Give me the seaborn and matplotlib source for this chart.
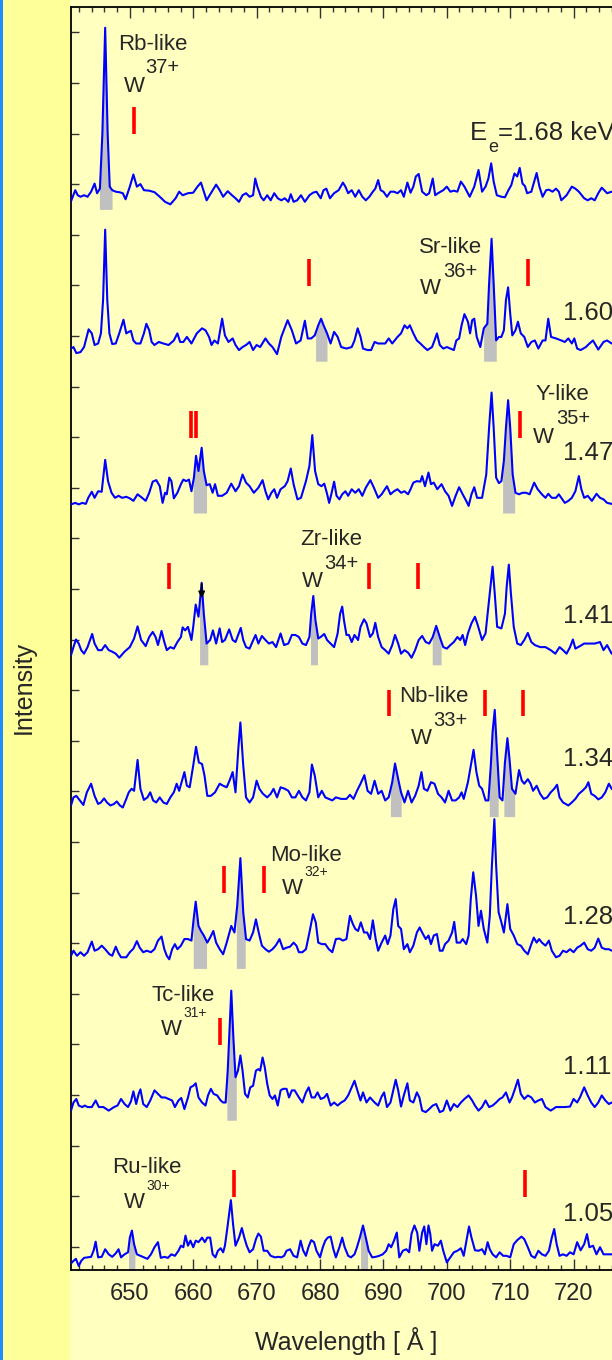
import numpy as np
import pandas as pd
import seaborn as sns
import matplotlib.pyplot as plt
from matplotlib.patches import Rectangle
from matplotlib.ticker import MultipleLocator

# ---- data (wavelength in A, intensity relative to its own baseline) ----
ions = ["Rb", "Sr", "Y", "Zr", "Nb", "Mo", "Tc", "Ru"]
charges = ["37+", "36+", "35+", "34+", "33+", "32+", "31+", "30+"]
energies = ["1.68", "1.60", "1.47", "1.41", "1.34", "1.28", "1.11", "1.05"]
offsets = [21, 18, 15, 12, 9, 6, 3, 0]

spec_rb = [(640.72, -0.34), (641.39, -0.12), (641.78, -0.22), (642.22, -0.25), (642.78, -0.22),
           (643.33, -0.25), (643.89, -0.15), (644.44, 0.01), (644.83, -0.18), (645.28, -0.09),
           (645.67, 1.00), (646.11, 3.09), (646.50, 1.00), (646.83, -0.05), (647.22, -0.12),
           (647.78, -0.15), (648.33, -0.16), (648.89, -0.18), (649.33, -0.30), (650.00, -0.05),
           (650.56, 0.19), (651.11, -0.05), (651.67, 0.00), (652.22, -0.12), (653.06, -0.13),
           (653.89, -0.16), (654.72, -0.25), (655.56, -0.35), (656.39, -0.40), (657.22, -0.28),
           (657.78, -0.15), (658.33, -0.22), (659.17, -0.18), (660.00, -0.17), (660.67, -0.05),
           (661.22, 0.03), (661.67, -0.15), (662.11, -0.32), (662.78, -0.18), (663.61, -0.01),
           (664.17, -0.12), (664.72, -0.25), (665.44, -0.14), (666.11, -0.22), (666.67, -0.28),
           (667.22, -0.35), (667.78, -0.22), (668.33, -0.18), (668.89, -0.25), (669.44, -0.22),
           (669.78, 0.11), (670.11, -0.05), (670.67, -0.25), (671.11, -0.32), (671.67, -0.22),
           (672.22, -0.32), (672.78, -0.18), (673.33, -0.28), (673.89, -0.32), (674.44, -0.28),
           (675.00, -0.35), (675.39, -0.20), (675.83, -0.35), (676.39, -0.32), (677.00, -0.22),
           (677.61, -0.35), (678.33, -0.22), (678.89, -0.17), (679.44, -0.15), (680.11, -0.28),
           (680.56, -0.12), (681.00, -0.09), (681.56, -0.28), (682.22, -0.18), (682.94, -0.12),
           (683.61, 0.03), (684.00, -0.05), (684.44, -0.18), (685.00, -0.12), (685.56, -0.25),
           (686.11, -0.12), (686.67, -0.25), (687.22, -0.32), (687.78, -0.25), (688.33, -0.15),
           (688.72, -0.09), (689.17, 0.08), (689.56, -0.12), (690.00, -0.15), (690.56, -0.25),
           (691.11, -0.15), (691.67, -0.15), (692.22, -0.18), (692.78, -0.12), (693.22, -0.25),
           (693.78, 0.03), (694.28, -0.17), (694.72, -0.05), (695.11, 0.15), (695.56, 0.20),
           (696.11, -0.15), (696.78, -0.22), (697.22, -0.18), (697.78, 0.11), (698.17, -0.22),
           (698.61, -0.18), (699.44, -0.12), (700.00, -0.05), (700.56, -0.15), (701.11, -0.13),
           (701.67, -0.15), (702.22, 0.05), (702.78, -0.05), (703.61, -0.25), (704.33, -0.05),
           (705.00, 0.28), (705.56, -0.15), (706.11, -0.05), (706.56, 0.11), (707.00, 0.41),
           (707.39, 0.05), (707.89, -0.22), (708.61, -0.25), (709.17, -0.26), (709.72, -0.12),
           (710.17, -0.02), (710.67, 0.21), (711.11, 0.15), (711.50, 0.32), (711.94, 0.01),
           (712.33, -0.04), (712.67, -0.18), (713.33, -0.15), (714.17, 0.22), (714.61, -0.05),
           (715.11, -0.25), (715.67, -0.12), (716.11, -0.11), (716.67, -0.15), (717.22, -0.09),
           (717.67, -0.15), (718.06, -0.32), (718.89, -0.22), (719.72, -0.05), (720.28, -0.09),
           (720.83, -0.15), (721.67, -0.28), (722.22, -0.32), (722.78, -0.28), (723.33, -0.32),
           (723.89, -0.18), (724.44, -0.07), (725.28, -0.18), (726.00, -0.15), (727.00, -0.20)]

spec_sr = [(640.72, -0.25), (641.11, -0.22), (641.56, -0.34), (642.22, -0.32), (642.78, -0.22),
           (643.50, 0.13), (644.00, 0.05), (644.44, -0.18), (645.00, -0.15), (645.44, 0.05),
           (645.78, 0.71), (646.11, 2.10), (646.44, 0.71), (646.78, 0.05), (647.22, -0.16),
           (647.78, -0.15), (648.33, 0.05), (649.00, 0.32), (649.44, 0.05), (649.83, 0.08),
           (650.17, 0.10), (650.56, -0.09), (651.00, -0.15), (651.67, -0.15), (652.22, 0.05),
           (652.61, 0.24), (653.06, 0.11), (653.44, -0.12), (653.89, -0.18), (654.56, -0.12),
           (655.28, -0.15), (656.11, -0.18), (656.94, -0.09), (657.50, 0.05), (657.94, -0.12),
           (658.44, -0.12), (659.00, -0.02), (659.72, -0.15), (660.56, 0.05), (661.39, 0.15),
           (661.94, 0.11), (662.50, -0.02), (662.89, -0.18), (663.33, -0.09), (663.89, -0.15),
           (664.56, 0.34), (665.00, 0.01), (665.56, -0.12), (666.22, -0.05), (666.67, -0.18),
           (667.22, -0.28), (667.78, -0.22), (668.33, -0.18), (668.89, -0.12), (669.44, -0.28),
           (670.00, -0.18), (670.56, -0.22), (671.39, -0.05), (671.94, -0.15), (672.50, -0.22),
           (673.22, -0.36), (673.89, -0.02), (674.89, 0.31), (675.56, 0.11), (676.22, -0.15),
           (676.94, -0.09), (677.61, 0.30), (678.06, -0.05), (678.61, -0.05), (679.17, 0.01),
           (679.72, 0.21), (680.17, 0.34), (680.56, 0.21), (681.11, 0.05), (681.67, -0.15),
           (682.22, 0.08), (682.78, -0.02), (683.33, -0.22), (684.17, -0.25), (685.00, -0.22),
           (685.44, -0.09), (685.94, 0.15), (686.39, -0.02), (686.78, -0.25), (687.50, -0.28),
           (688.06, -0.28), (688.61, -0.12), (689.17, -0.15), (690.28, -0.15), (690.83, -0.05),
           (691.39, -0.15), (692.22, -0.02), (692.78, 0.05), (693.33, 0.21), (693.78, 0.15),
           (694.17, 0.21), (694.72, 0.05), (695.28, -0.09), (695.83, -0.15), (696.39, -0.22),
           (696.94, -0.28), (697.67, -0.22), (698.06, -0.09), (698.44, 0.05), (698.89, -0.18),
           (699.44, -0.25), (700.00, -0.22), (700.56, -0.25), (701.11, -0.28), (701.50, -0.09),
           (701.94, -0.05), (702.33, 0.21), (702.78, 0.43), (703.33, 0.28), (703.67, 0.05),
           (704.00, 0.31), (704.33, 0.34), (704.72, -0.02), (705.28, -0.22), (705.83, 0.15),
           (706.39, 0.24), (706.67, 1.03), (707.06, 1.92), (707.39, 1.03), (707.78, -0.09),
           (708.22, -0.02), (708.61, -0.02), (709.00, 0.11), (709.33, 0.71), (709.67, 0.96),
           (710.00, 0.44), (710.33, 0.01), (710.83, 0.11), (711.22, 0.28), (711.67, 0.05),
           (712.22, -0.02), (712.78, -0.22), (713.33, -0.12), (713.89, -0.09), (714.44, -0.25),
           (715.11, -0.09), (715.56, -0.09), (716.00, 0.34), (716.44, -0.02), (717.22, -0.05),
           (718.06, -0.09), (718.61, -0.12), (719.17, -0.05), (719.72, -0.15), (720.11, -0.05),
           (720.56, -0.25), (721.11, -0.28), (721.94, -0.22), (722.50, -0.15), (723.06, -0.09),
           (723.89, -0.27), (724.72, -0.12), (725.28, -0.09), (726.00, -0.15), (727.00, -0.12)]

spec_y = [(640.72, -0.33), (641.39, -0.30), (641.94, -0.33), (642.50, -0.30), (643.06, -0.32),
          (643.44, -0.20), (644.00, -0.08), (644.44, -0.20), (645.00, -0.07), (645.56, -0.08),
          (646.11, 0.55), (646.56, 0.13), (647.11, -0.10), (647.67, -0.20), (648.22, -0.16),
          (648.78, -0.20), (649.44, -0.18), (650.00, -0.21), (650.56, -0.26), (651.22, -0.13),
          (651.94, -0.20), (652.50, -0.26), (653.06, -0.10), (653.61, 0.12), (654.17, 0.15),
          (654.72, 0.03), (655.17, -0.30), (655.56, -0.10), (655.83, -0.13), (656.22, 0.20),
          (656.56, 0.13), (656.94, -0.21), (657.50, -0.10), (658.06, 0.07), (658.44, 0.16),
          (658.89, 0.13), (659.33, 0.16), (659.72, -0.07), (660.11, 0.20), (660.44, 0.63),
          (660.83, 0.33), (661.33, 0.79), (661.67, 0.33), (662.11, 0.05), (662.61, 0.07),
          (663.06, -0.10), (663.44, 0.07), (663.89, -0.16), (664.56, -0.16), (665.28, -0.10),
          (666.00, 0.08), (666.67, -0.07), (667.22, 0.03), (667.78, 0.26), (668.33, 0.10),
          (668.89, 0.03), (669.56, -0.10), (670.28, 0.00), (670.94, 0.15), (671.39, -0.07),
          (671.83, -0.23), (672.33, -0.10), (672.78, -0.03), (673.22, -0.20), (673.78, -0.03),
          (674.44, 0.03), (674.89, 0.13), (675.39, 0.38), (675.83, 0.07), (676.44, -0.23),
          (677.00, -0.20), (677.78, 0.13), (678.33, 0.43), (678.78, 1.04), (679.22, 0.33),
          (679.72, 0.07), (680.22, 0.03), (680.67, 0.08), (681.11, -0.12), (681.44, -0.30),
          (681.78, -0.13), (682.22, 0.12), (682.61, -0.16), (683.06, -0.23), (683.50, -0.13),
          (684.00, -0.07), (684.44, -0.16), (685.00, -0.03), (685.56, -0.10), (686.11, -0.03),
          (686.67, -0.16), (687.22, 0.00), (687.94, 0.15), (688.50, 0.00), (689.17, -0.20),
          (689.72, -0.13), (690.56, 0.03), (691.11, -0.13), (691.67, -0.07), (692.22, -0.03),
          (692.78, -0.10), (693.33, -0.07), (693.89, -0.13), (694.28, -0.03), (694.72, 0.10),
          (695.28, 0.13), (695.83, 0.12), (696.11, 0.23), (696.56, 0.03), (697.11, 0.30),
          (697.50, 0.07), (697.94, 0.10), (698.50, -0.03), (699.17, 0.07), (699.72, -0.07),
          (700.28, -0.16), (700.83, -0.36), (701.39, -0.16), (701.94, 0.01), (702.50, -0.13),
          (703.06, -0.26), (703.44, -0.36), (703.89, -0.13), (704.33, 0.01), (704.78, -0.20),
          (705.56, -0.20), (706.22, 0.26), (706.67, 1.19), (707.06, 1.88), (707.39, 1.19),
          (707.78, 0.20), (708.22, 0.09), (708.61, 0.13), (709.00, 0.53), (709.33, 1.19),
          (709.67, 1.73), (710.00, 1.19), (710.39, 0.26), (710.83, -0.10), (711.39, -0.13),
          (711.94, -0.10), (712.50, -0.10), (713.06, -0.13), (713.78, 0.10), (714.33, -0.03),
          (715.00, -0.13), (715.56, -0.20), (716.00, -0.12), (716.56, -0.20), (717.22, -0.20),
          (717.67, -0.13), (718.06, -0.20), (718.61, -0.30), (719.17, -0.26), (719.72, -0.20),
          (720.28, -0.07), (720.83, 0.23), (721.22, -0.03), (721.67, -0.20), (722.22, -0.16),
          (722.89, -0.26), (723.61, -0.12), (724.17, -0.20), (724.72, -0.23), (725.28, -0.30),
          (726.00, -0.32), (727.00, -0.25)]

spec_zr = [(640.72, -0.31), (641.11, -0.15), (641.50, 0.00), (641.94, -0.08), (642.33, -0.21),
           (642.78, -0.28), (643.33, -0.15), (644.06, 0.11), (644.44, -0.08), (645.00, -0.21),
           (645.56, -0.21), (646.11, -0.11), (646.67, -0.21), (647.22, -0.24), (647.78, -0.28),
           (648.33, -0.36), (649.17, -0.24), (650.00, -0.15), (650.67, 0.02), (651.22, 0.26),
           (651.78, -0.01), (652.50, -0.13), (653.06, 0.05), (653.61, 0.15), (654.06, 0.05),
           (654.44, -0.11), (655.00, 0.17), (655.44, -0.05), (655.83, -0.21), (656.39, -0.15),
           (656.94, -0.18), (657.50, -0.05), (658.06, 0.05), (658.33, 0.24), (658.72, 0.18),
           (659.17, 0.25), (659.72, -0.01), (660.00, 0.25), (660.39, 0.69), (660.83, 0.45),
           (661.33, 1.12), (661.67, 0.51), (662.11, -0.08), (662.67, -0.01), (663.11, 0.18),
           (663.61, -0.08), (664.17, 0.22), (664.56, -0.05), (665.00, -0.01), (665.67, 0.20),
           (666.22, -0.01), (666.67, -0.05), (667.50, 0.23), (667.89, -0.01), (668.33, -0.15),
           (668.89, -0.18), (669.33, -0.05), (669.83, 0.09), (670.28, -0.08), (670.83, 0.07),
           (671.39, -0.01), (671.94, -0.08), (672.50, -0.05), (673.06, -0.15), (673.78, 0.12),
           (674.33, -0.11), (675.00, -0.08), (675.56, 0.09), (676.11, 0.09), (676.67, 0.05),
           (677.22, -0.08), (677.78, -0.11), (678.33, 0.05), (678.61, 0.51), (678.94, 0.86),
           (679.28, 0.38), (679.72, 0.02), (680.11, 0.05), (680.67, 0.11), (681.11, -0.01),
           (681.67, -0.08), (682.22, -0.15), (682.78, 0.12), (683.17, 0.51), (683.50, 0.65),
           (683.78, 0.38), (684.17, 0.09), (684.56, 0.09), (685.00, -0.05), (685.44, 0.09),
           (686.00, -0.01), (686.39, 0.25), (686.94, 0.40), (687.33, 0.32), (687.89, 0.05),
           (688.33, 0.12), (688.72, 0.33), (689.17, 0.05), (689.72, -0.15), (690.28, -0.21),
           (690.83, -0.28), (691.39, -0.11), (691.83, 0.09), (692.33, -0.08), (692.78, -0.28),
           (693.33, -0.21), (693.89, -0.26), (694.44, -0.36), (695.00, -0.21), (695.56, -0.01),
           (696.11, 0.07), (696.67, -0.05), (697.22, -0.08), (697.78, 0.05), (698.33, 0.27),
           (698.89, 0.05), (699.44, -0.15), (700.00, -0.18), (700.56, -0.11), (701.11, -0.05),
           (701.67, 0.05), (702.11, -0.01), (702.50, 0.09), (702.89, -0.11), (703.33, 0.12),
           (703.89, 0.32), (704.44, 0.45), (704.89, 0.28), (705.56, -0.01), (706.11, 0.12),
           (706.67, 0.78), (707.22, 1.44), (707.56, 0.91), (707.94, 0.25), (708.61, 0.22),
           (709.17, 0.51), (709.44, 1.04), (709.78, 1.48), (710.11, 0.91), (710.56, 0.25),
           (711.11, -0.08), (711.67, -0.11), (712.22, -0.01), (712.78, 0.13), (713.33, -0.05),
           (713.89, -0.11), (714.72, -0.15), (715.56, -0.15), (716.39, -0.21), (717.11, -0.28),
           (717.78, -0.15), (718.33, -0.21), (718.89, -0.28), (719.44, -0.15), (719.89, 0.00),
           (720.28, -0.18), (721.00, -0.13), (721.67, -0.08), (722.50, -0.08), (723.33, -0.08),
           (724.17, -0.05), (724.72, -0.21), (725.28, -0.11), (726.00, -0.28), (727.00, -0.15)]

spec_nb = [(640.72, -0.28), (641.11, -0.12), (641.56, -0.09), (642.11, -0.18), (642.67, -0.27),
           (643.22, -0.02), (643.89, 0.15), (644.44, -0.09), (645.00, -0.25), (645.44, -0.22),
           (645.94, -0.14), (646.39, -0.22), (646.94, -0.28), (647.50, -0.25), (647.94, -0.20),
           (648.44, -0.28), (648.89, -0.32), (649.44, -0.15), (649.83, -0.02), (650.28, 0.05),
           (650.67, 0.01), (651.22, 0.62), (651.67, 0.05), (652.22, -0.17), (652.78, -0.12),
           (653.22, -0.02), (653.67, -0.18), (654.17, -0.22), (654.72, -0.12), (655.28, -0.22),
           (655.83, -0.25), (656.39, -0.12), (656.94, -0.02), (657.39, 0.15), (657.78, 0.01),
           (658.22, 0.21), (658.61, 0.38), (659.00, 0.11), (659.44, 0.08), (660.00, 0.51),
           (660.44, 0.88), (660.89, 0.57), (661.39, 0.54), (661.78, 0.31), (662.22, -0.09),
           (662.78, -0.09), (663.44, -0.02), (664.17, 0.15), (664.72, 0.11), (665.28, 0.08),
           (665.72, 0.21), (666.22, 0.38), (666.67, -0.02), (667.11, 0.84), (667.44, 1.36),
           (667.89, 0.51), (668.33, -0.12), (668.89, -0.22), (669.44, -0.12), (670.00, 0.21),
           (670.44, 0.05), (671.00, -0.05), (671.67, -0.12), (672.22, -0.05), (672.67, 0.05),
           (673.22, -0.12), (673.78, 0.08), (674.44, 0.05), (675.00, 0.01), (675.56, -0.12),
           (676.11, -0.12), (676.67, 0.01), (677.22, -0.12), (677.78, -0.18), (678.33, -0.02),
           (678.72, 0.53), (679.17, 0.31), (679.72, -0.12), (680.28, 0.01), (680.83, -0.12),
           (681.39, -0.15), (681.94, -0.18), (682.50, -0.12), (683.33, -0.15), (684.17, -0.15),
           (684.72, -0.07), (685.28, -0.15), (685.83, 0.01), (686.39, 0.15), (687.00, 0.32),
           (687.50, 0.01), (688.06, -0.05), (688.61, 0.21), (689.17, -0.05), (689.72, 0.01),
           (690.28, -0.18), (690.83, -0.12), (691.39, 0.18), (691.83, 0.55), (692.33, 0.24),
           (692.78, -0.02), (693.33, -0.22), (693.89, 0.01), (694.44, -0.22), (695.00, -0.09),
           (695.56, 0.11), (696.00, 0.38), (696.39, 0.05), (696.94, 0.01), (697.50, 0.18),
           (698.06, 0.15), (698.61, -0.05), (699.17, -0.12), (699.72, -0.22), (700.28, 0.01),
           (700.83, -0.18), (701.39, -0.18), (701.94, -0.12), (702.33, -0.02), (702.67, -0.15),
           (703.33, 0.18), (703.78, 0.51), (704.22, 0.82), (704.67, 0.38), (705.11, 0.11),
           (705.56, 0.05), (706.11, -0.18), (706.56, -0.18), (706.94, 0.51), (707.22, 1.17),
           (707.56, 1.61), (707.89, 0.84), (708.33, -0.12), (708.78, -0.18), (709.17, 0.57),
           (709.56, 1.05), (709.89, 0.64), (710.28, 0.05), (710.83, -0.05), (711.39, 0.42),
           (711.83, 0.21), (712.22, 0.15), (712.78, 0.24), (713.22, 0.15), (713.61, 0.01),
           (714.17, 0.11), (714.72, -0.05), (715.28, -0.15), (715.83, -0.12), (716.39, -0.02),
           (716.94, 0.05), (717.39, 0.13), (717.78, -0.12), (718.33, -0.22), (719.17, -0.28),
           (719.72, -0.22), (720.28, -0.15), (720.83, -0.05), (721.39, 0.01), (721.94, 0.08),
           (722.33, 0.18), (722.78, -0.05), (723.33, -0.09), (723.89, -0.16), (724.44, -0.12),
           (725.00, -0.02), (725.56, 0.15), (726.00, 0.05), (727.00, -0.05)]

spec_mo = [(640.72, -0.25), (641.11, -0.15), (641.67, -0.25), (642.22, -0.18), (642.78, -0.25),
           (643.33, -0.18), (644.00, 0.03), (644.44, -0.15), (645.00, -0.12), (645.56, -0.05),
           (646.11, -0.12), (646.78, -0.22), (647.22, -0.25), (647.78, -0.07), (648.22, -0.20),
           (648.61, -0.28), (649.44, -0.28), (650.00, -0.18), (650.56, -0.11), (651.11, 0.04),
           (651.56, -0.09), (652.11, -0.18), (652.67, -0.15), (653.33, -0.18), (653.89, -0.12),
           (654.44, 0.05), (655.00, 0.13), (655.44, -0.12), (655.83, -0.25), (656.22, -0.32),
           (656.67, -0.12), (657.11, -0.02), (657.50, -0.12), (658.06, -0.05), (658.61, 0.08),
           (659.17, 0.08), (659.72, 0.05), (660.06, 0.47), (660.39, 0.82), (660.83, 0.34),
           (661.22, 0.24), (661.67, 0.15), (662.22, 0.01), (662.67, 0.11), (663.17, 0.24),
           (663.61, 0.01), (664.17, -0.12), (664.72, -0.22), (665.28, 0.01), (666.00, 0.34),
           (666.50, 0.21), (666.94, 0.74), (667.44, 1.68), (667.89, 0.61), (668.33, 0.08),
           (668.89, 0.05), (669.44, 0.21), (669.89, 0.47), (670.33, 0.21), (670.83, -0.05),
           (671.39, -0.12), (671.94, -0.17), (672.50, -0.12), (673.06, -0.04), (673.61, 0.08),
           (674.17, -0.12), (674.72, -0.09), (675.28, -0.07), (675.83, 0.01), (676.28, -0.05),
           (676.67, -0.18), (677.22, -0.18), (677.78, -0.12), (678.33, 0.21), (678.89, 0.57),
           (679.33, 0.41), (679.72, 0.01), (680.28, -0.02), (680.83, -0.02), (681.39, -0.12),
           (681.94, -0.18), (682.50, 0.08), (683.06, 0.09), (683.61, 0.05), (684.17, 0.08),
           (684.72, 0.54), (685.17, 0.38), (685.56, 0.28), (686.00, 0.24), (686.44, 0.41),
           (686.94, 0.21), (687.44, 0.21), (687.89, 0.08), (688.33, 0.45), (688.78, 0.08),
           (689.17, -0.15), (689.72, 0.01), (690.28, 0.15), (690.67, -0.02), (691.11, 0.15),
           (691.56, 0.67), (691.94, 0.87), (692.33, 0.34), (692.78, 0.28), (693.22, -0.12),
           (693.78, -0.02), (694.17, -0.18), (694.72, -0.05), (695.28, 0.21), (695.72, 0.31),
           (696.11, 0.21), (696.67, 0.08), (697.11, 0.15), (697.50, -0.02), (697.94, 0.15),
           (698.44, 0.18), (698.89, -0.15), (699.33, -0.15), (699.72, -0.02), (700.28, 0.05),
           (700.83, 0.21), (701.17, 0.42), (701.56, 0.01), (702.11, 0.01), (702.50, 0.08),
           (703.06, -0.02), (703.44, 0.15), (703.78, 0.87), (704.17, 1.40), (704.61, 0.94),
           (705.00, 0.34), (705.39, 0.64), (705.83, 0.28), (706.39, 0.01), (706.78, 0.54),
           (707.11, 1.53), (707.50, 2.45), (707.78, 1.53), (708.17, 0.61), (708.61, 0.41),
           (709.00, 0.21), (709.56, 0.77), (710.00, 0.28), (710.56, 0.15), (711.11, -0.02),
           (711.67, -0.05), (712.22, -0.15), (712.78, -0.22), (713.33, -0.02), (713.72, 0.11),
           (714.17, 0.01), (714.56, 0.08), (715.00, 0.01), (715.56, -0.05), (716.11, 0.05),
           (716.56, -0.15), (717.22, -0.28), (717.78, -0.25), (718.33, -0.15), (718.89, -0.18),
           (719.44, -0.12), (720.00, -0.18), (720.56, -0.09), (721.11, -0.05), (721.67, 0.01),
           (722.22, -0.12), (722.78, -0.15), (723.33, -0.09), (723.89, 0.09), (724.44, -0.09),
           (725.00, -0.12), (725.56, -0.12), (726.00, -0.15), (727.00, -0.10)]

spec_tc = [(640.72, -0.31), (641.11, -0.15), (641.56, -0.08), (641.94, -0.21), (642.50, -0.24),
           (642.89, -0.21), (643.33, -0.24), (644.00, -0.24), (644.61, -0.11), (645.11, -0.24),
           (645.83, -0.24), (646.67, -0.31), (647.50, -0.24), (648.06, -0.21), (648.61, -0.08),
           (649.17, -0.18), (649.72, -0.24), (650.17, -0.13), (650.56, 0.07), (651.00, -0.18),
           (651.39, 0.02), (651.67, 0.11), (652.11, -0.18), (652.67, -0.24), (653.22, -0.11),
           (653.89, 0.09), (654.44, 0.02), (655.00, -0.05), (655.56, -0.05), (656.11, -0.08),
           (656.67, -0.11), (657.11, -0.24), (657.67, -0.11), (658.11, -0.06), (658.61, -0.28),
           (659.17, -0.05), (659.56, 0.15), (660.00, 0.18), (660.39, 0.23), (660.83, -0.05),
           (661.39, -0.15), (661.94, -0.21), (662.33, -0.01), (662.78, 0.12), (663.22, 0.02),
           (663.78, -0.01), (664.33, -0.11), (664.72, -0.15), (665.11, -0.15), (665.44, 0.48),
           (665.78, 1.47), (666.00, 2.06), (666.33, 1.14), (666.67, 0.35), (667.06, 0.48),
           (667.44, 0.78), (667.78, 0.48), (668.17, 0.02), (668.61, -0.05), (669.00, 0.15),
           (669.44, 0.18), (669.89, 0.48), (670.28, 0.51), (670.56, 0.48), (670.94, 0.74),
           (671.28, 0.55), (671.67, 0.22), (672.06, -0.01), (672.50, -0.08), (672.89, -0.01),
           (673.33, -0.21), (673.78, 0.09), (674.17, 0.12), (674.72, 0.12), (675.11, -0.05),
           (675.56, 0.09), (676.00, 0.09), (676.67, -0.05), (677.22, -0.15), (677.78, 0.05),
           (678.22, 0.15), (678.67, -0.05), (679.17, -0.05), (679.61, 0.05), (680.11, -0.08),
           (680.67, -0.05), (681.11, 0.02), (681.67, -0.21), (682.22, -0.15), (682.78, -0.21),
           (683.33, -0.15), (683.89, -0.11), (684.44, -0.01), (685.00, 0.15), (685.44, 0.28),
           (685.89, 0.09), (686.39, -0.11), (686.78, 0.05), (687.33, -0.15), (687.89, -0.05),
           (688.61, -0.15), (689.17, -0.21), (689.72, -0.03), (690.11, 0.05), (690.56, -0.24),
           (691.11, -0.15), (691.56, 0.09), (691.94, 0.30), (692.33, 0.09), (692.78, -0.23),
           (693.22, -0.01), (693.78, 0.23), (694.17, -0.11), (694.72, -0.15), (695.28, 0.05),
           (695.67, -0.05), (696.11, -0.31), (696.67, -0.34), (697.22, -0.28), (697.78, -0.21),
           (698.33, -0.18), (698.89, -0.34), (699.44, -0.31), (700.00, -0.11), (700.56, -0.31),
           (701.11, -0.18), (701.67, -0.24), (702.22, -0.15), (702.78, -0.08), (703.44, -0.01),
           (704.00, -0.11), (704.44, -0.21), (705.00, -0.31), (705.56, -0.24), (706.11, -0.11),
           (706.67, -0.24), (707.22, -0.21), (707.78, -0.15), (708.33, -0.08), (708.78, -0.05),
           (709.33, 0.05), (709.89, -0.15), (710.28, -0.05), (710.67, 0.09), (711.22, 0.30),
           (711.67, 0.02), (712.22, -0.08), (712.78, -0.01), (713.33, -0.05), (713.89, -0.15),
           (714.44, -0.11), (715.00, -0.08), (715.56, -0.24), (716.39, -0.31), (717.22, -0.24),
           (717.78, -0.24), (718.61, -0.24), (719.44, -0.23), (720.00, -0.08), (720.56, -0.15),
           (721.00, -0.05), (721.67, 0.15), (722.22, -0.01), (722.78, -0.15), (723.33, -0.24),
           (723.89, -0.15), (724.44, -0.01), (725.00, -0.11), (725.56, -0.18), (726.00, -0.15),
           (727.00, -0.20)]

spec_ru = [(640.72, -0.33), (641.11, -0.28), (641.50, -0.24), (641.94, -0.38), (642.33, -0.28),
           (642.78, -0.22), (643.33, -0.21), (643.89, -0.20), (644.28, -0.08), (644.61, 0.10),
           (645.00, -0.21), (645.56, -0.20), (646.11, -0.05), (646.67, -0.15), (647.22, -0.20),
           (647.78, -0.13), (648.22, -0.05), (648.61, -0.21), (649.17, -0.15), (649.72, -0.11),
           (650.00, 0.18), (650.33, 0.32), (650.67, 0.05), (651.11, -0.15), (651.67, -0.18),
           (652.22, -0.21), (652.78, -0.24), (653.33, -0.15), (653.89, -0.01), (654.44, 0.09),
           (654.89, -0.22), (655.44, -0.20), (656.00, -0.22), (656.56, -0.15), (657.11, -0.18),
           (657.67, -0.08), (658.06, 0.02), (658.44, -0.01), (658.78, 0.22), (659.17, 0.02),
           (659.56, 0.12), (660.00, -0.01), (660.39, 0.12), (660.83, 0.09), (661.39, 0.18),
           (661.83, 0.09), (662.22, 0.18), (662.67, 0.18), (663.06, -0.15), (663.50, -0.21),
           (663.89, -0.08), (664.33, -0.03), (664.72, -0.11), (665.00, 0.02), (665.33, 0.32),
           (665.67, 0.65), (665.94, 0.92), (666.28, 0.45), (666.67, 0.02), (667.22, 0.18),
           (667.67, 0.37), (668.06, 0.18), (668.44, 0.02), (668.89, -0.11), (669.44, -0.05),
           (669.89, 0.15), (670.28, 0.26), (670.67, 0.20), (671.11, -0.08), (671.67, -0.08),
           (672.22, -0.18), (672.89, -0.21), (673.44, -0.20), (673.89, -0.21), (674.33, -0.18),
           (674.72, -0.08), (675.28, -0.05), (675.83, -0.18), (676.39, -0.21), (676.94, 0.12),
           (677.33, -0.07), (677.78, -0.18), (678.17, -0.01), (678.61, 0.13), (679.06, 0.09),
           (679.44, -0.08), (680.00, -0.21), (680.44, -0.01), (680.83, 0.12), (681.22, 0.18),
           (681.67, 0.20), (682.11, -0.05), (682.50, -0.21), (683.06, -0.01), (683.50, 0.18),
           (683.89, -0.01), (684.44, -0.18), (684.89, -0.21), (685.44, -0.15), (685.83, -0.01),
           (686.28, 0.18), (686.78, 0.42), (687.22, 0.18), (687.67, -0.08), (688.22, -0.21),
           (688.78, -0.20), (689.33, -0.18), (689.89, -0.15), (690.44, -0.08), (690.83, 0.05),
           (691.22, -0.01), (691.67, 0.12), (692.11, 0.28), (692.50, -0.21), (693.06, -0.08),
           (693.61, -0.05), (694.06, -0.11), (694.44, 0.26), (694.89, 0.42), (695.33, 0.28),
           (695.67, -0.08), (696.11, 0.28), (696.44, 0.40), (696.78, 0.05), (697.11, 0.42),
           (697.39, 0.25), (697.67, -0.08), (698.06, 0.05), (698.61, 0.02), (699.06, 0.12),
           (699.44, -0.08), (700.00, -0.31), (700.56, -0.21), (701.11, -0.11), (701.67, -0.08),
           (702.22, -0.03), (702.67, -0.18), (703.06, 0.09), (703.50, 0.40), (703.89, 0.18),
           (704.44, -0.07), (705.00, -0.08), (705.56, -0.05), (706.00, -0.15), (706.44, 0.09),
           (706.78, -0.05), (707.22, -0.15), (707.78, -0.21), (708.33, -0.11), (708.89, -0.18),
           (709.44, -0.18), (710.00, -0.21), (710.56, 0.05), (711.11, 0.13), (711.78, 0.20),
           (712.22, 0.15), (712.78, -0.01), (713.33, -0.18), (713.89, -0.22), (714.44, -0.08),
           (715.00, -0.15), (715.56, -0.18), (716.11, -0.08), (716.56, 0.18), (716.94, 0.35),
           (717.33, 0.05), (717.78, -0.18), (718.33, -0.15), (718.89, -0.18), (719.44, -0.11),
           (720.00, -0.15), (720.56, 0.09), (721.11, -0.07), (721.67, 0.05), (722.11, 0.25),
           (722.50, -0.01), (723.06, 0.02), (723.61, -0.15), (724.17, -0.01), (724.72, -0.15),
           (725.28, -0.15), (726.00, -0.15), (727.00, -0.12)]

spectra = [spec_rb, spec_sr, spec_y, spec_zr, spec_nb, spec_mo, spec_tc, spec_ru]

# shaded line windows (wavelength ranges) per spectrum
shaded = [[(645.2, 647.2)],
          [(679.3, 681.1), (705.8, 707.8)],
          [(660.0, 662.1), (708.8, 710.7)],
          [(661.0, 662.3), (678.5, 679.6), (697.7, 699.1)],
          [(691.1, 692.8), (706.7, 708.1), (709.0, 710.7)],
          [(660.0, 662.1), (666.8, 668.2)],
          [(665.3, 666.8)],
          [(649.8, 650.8), (686.4, 687.5)]]

# calculated line positions (red markers)
markers = [[650.6],
           [678.3, 712.8],
           [659.6, 660.4, 711.6],
           [656.2, 687.7, 695.4],
           [690.9, 706.1, 712.0],
           [664.8, 671.1],
           [664.2],
           [666.5, 712.4]]

# ---- build a long table ----
rows = []
for ion, off, spec in zip(ions, offsets, spectra):
    for wl, val in spec:
        rows.append((ion, wl, val + off))
df = pd.DataFrame(rows, columns=["ion", "wavelength", "intensity"])

# ---- style ----
sns.set_style("ticks")
plt.rcParams['font.family'] = ['Liberation Sans', 'DejaVu Sans']

light = '#FFFFC0'
strip = '#FFFF99'

fig = plt.figure(figsize=(6.12, 13.6), dpi=100, facecolor=light)
fig.patches.append(Rectangle((0, 0), 70 / 612, 1, transform=fig.transFigure,
                             facecolor=strip, edgecolor='none', zorder=0))
fig.patches.append(Rectangle((0, 0), 2.5 / 612, 1, transform=fig.transFigure,
                             facecolor='#1E8CFF', edgecolor='none', zorder=1))

ax = fig.add_axes([71 / 612, 1 - 1270 / 1360, 566 / 612, 1263 / 1360])
ax.set_facecolor(light)

for i, (ion, off) in enumerate(zip(ions, offsets)):
    sub = df[df.ion == ion]
    x = sub.wavelength.values
    y = sub.intensity.values
    for lo, hi in shaded[i]:
        xf = np.linspace(lo, hi, 30)
        ax.fill_between(xf, np.interp(xf, x, y), off - 0.5, color='#C0C0C0', lw=0, zorder=2)
    sns.lineplot(data=sub, x="wavelength", y="intensity", ax=ax, color='#0000FF',
                 lw=1.5, estimator=None, sort=False, zorder=3,
                 solid_joinstyle='round')
    lo_m, hi_m = (1.48, 2.01) if ion == "Nb" else (0.99, 1.52)
    ax.vlines(markers[i], off + lo_m, off + hi_m, color='#FF0000', lw=2.6, zorder=4)

# arrow on the Zr spectrum
ax.annotate('', xy=(661.33, 12.76), xytext=(661.33, 13.16),
            arrowprops=dict(arrowstyle='-|>', color='black', lw=1.3, mutation_scale=9),
            zorder=5)

# ---- labels ----
name_pos = [(648.2, 23.65), (695.6, 19.63), (714.0, 16.73), (676.9, 13.87),
            (692.5, 10.76), (672.1, 7.63), (653.4, 4.85), (647.2, 1.46)]
w_pos = [(649.1, 22.83), (695.8, 18.82), (713.6, 15.89), (677.2, 13.04),
         (694.4, 9.94), (674.0, 6.97), (654.9, 4.19), (649.0, 0.76)]
q_pos = [(652.5, 23.20), (699.4, 19.17), (717.2, 16.25), (680.7, 13.40),
         (697.9, 10.29), (677.6, 7.32), (658.4, 4.54), (652.6, 1.12)]
q_size = [14.5, 14.5, 14.5, 14.5, 14.5, 10, 10, 10]
e_pos = [None, (718.3, 18.31), (718.3, 15.54), (718.3, 12.32), (718.3, 9.51),
         (718.3, 6.38), (718.3, 3.42), (718.3, 0.51)]

for i, ion in enumerate(ions):
    ax.text(*name_pos[i], ion + "-like", fontsize=16, va='baseline', ha='left')
    ax.text(*w_pos[i], "W", fontsize=16, va='baseline', ha='left')
    ax.text(*q_pos[i], charges[i], fontsize=q_size[i], va='baseline', ha='left')
    if e_pos[i] is not None:
        ax.text(*e_pos[i], energies[i], fontsize=18.5, va='baseline', ha='left')

ax.text(703.6, 21.88, "E", fontsize=18.5, va='baseline', ha='left')
ax.text(706.5, 21.64, "e", fontsize=13, va='baseline', ha='left')
ax.text(708.0, 21.88, "=" + energies[0] + " keV", fontsize=18.5, va='baseline', ha='left')

# ---- axes ----
ax.set_xlim(640.72, 730)
ax.set_ylim(-0.46, 24.5)
ax.xaxis.set_major_locator(MultipleLocator(10))
ax.xaxis.set_minor_locator(MultipleLocator(2))
ax.yaxis.set_major_locator(MultipleLocator(1))
ax.tick_params(axis='x', which='both', direction='in', top=True, bottom=True,
               labelsize=17, pad=9, width=1.0, color='#333333')
ax.tick_params(axis='x', which='major', length=8)
ax.tick_params(axis='x', which='minor', length=3.6)
ax.tick_params(axis='y', which='major', direction='in', length=6, width=1.0,
               left=True, right=False, labelleft=False, color='#333333')
ax.set_xticks([650, 660, 670, 680, 690, 700, 710, 720])
ax.set_xlabel("")
ax.set_ylabel("")
for s in ['left', 'bottom', 'top']:
    ax.spines[s].set_linewidth(1.3)
    ax.spines[s].set_color('black')
ax.spines['right'].set_visible(False)

fig.text(346 / 612, 1 - 1350 / 1360, "Wavelength [ Å ]", fontsize=18, ha='center', va='baseline')
fig.text(24 / 612, 1 - 688 / 1360, "Intensity", fontsize=18, rotation=90, ha='center', va='center')

fig.savefig("out.png", dpi=100, facecolor=light)
